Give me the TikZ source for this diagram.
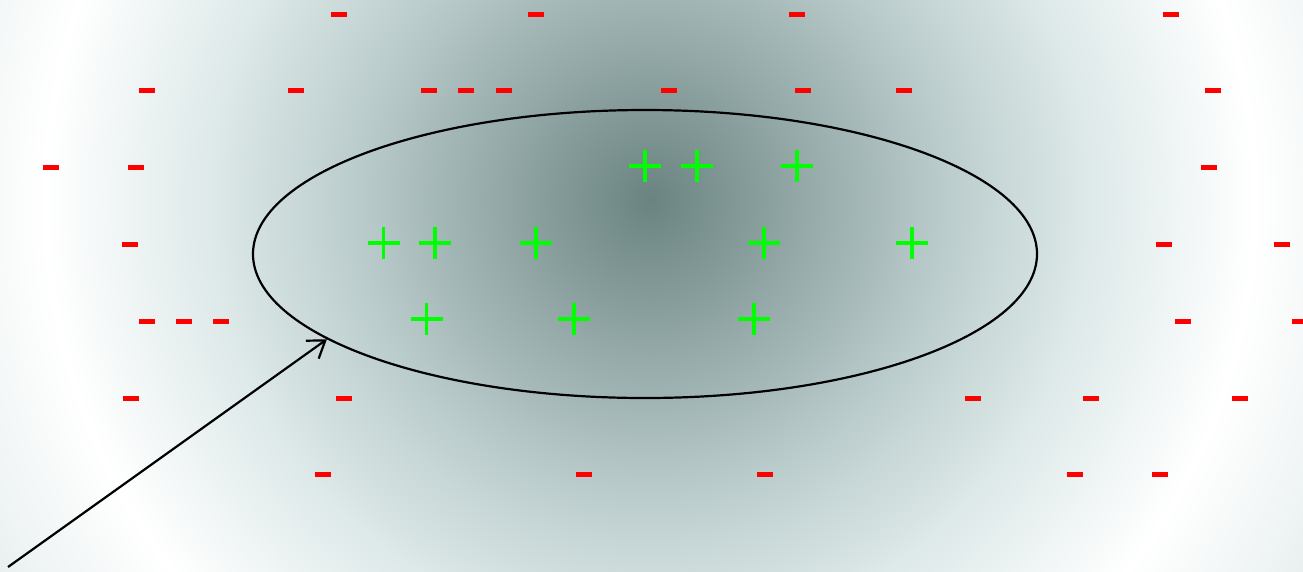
\documentclass[tikz,border=0pt]{standalone}
\usetikzlibrary{shapes.geometric,arrows.meta}
\definecolor{shcenter}{RGB}{106,131,129}
\definecolor{shmid}{RGB}{188,205,205}
\definecolor{shmidb}{RGB}{222,233,233}
\definecolor{shouter}{RGB}{196,214,214}
\definecolor{minusred}{RGB}{255,0,0}
\definecolor{plusgreen}{RGB}{0,255,0}
\pgfdeclareradialshading{bgshade}{\pgfpoint{0bp}{0bp}}{color(0bp)=(shcenter); color(7.5bp)=(shmid); color(11bp)=(shmidb); color(15.1bp)=(white); color(25bp)=(shouter); color(50bp)=(shouter)}
\tikzset{
  minussign/.style={fill=minusred},
  plussign/.style={draw=plusgreen, line width=3.5pt},
  region/.style={draw=black, line width=2.2pt, ellipse, minimum width=784pt, minimum height=288pt, inner sep=0pt},
  pointer/.style={draw=black, line width=2.2pt, -{Straight Barb[length=16pt,width=22pt,line width=2.2pt]}}
}
\begin{document}
\begin{tikzpicture}[x=1pt,y=-1pt]
\useasboundingbox (0,0) rectangle (1303,571);
\begin{scope}
\clip (0,0) rectangle (1303,571);
\shade[shading=bgshade] (650,200) circle[radius=1000];
\end{scope}
% minus signs
\foreach \mx/\my in {339/14.5,536/14.5,797/14.5,1171/14.5,
  147/90.5,296/90.5,429/90.5,466/90.5,504/90.5,669/90.5,803/90.5,904/90.5,1213/90.5,
  51/167.5,136/167.5,1209/167.5,
  130/244.5,1164/244.5,1282/244.5,
  147/321.5,184/321.5,221/321.5,1183/321.5,1300/321.5,
  131/398.5,344/398.5,973/398.5,1091/398.5,1240/398.5,
  323/474.5,584/474.5,765/474.5,1075/474.5,1160/474.5}
  \fill[minussign] (\mx-8,\my-2.5) rectangle (\mx+8,\my+2.5);
% plus signs
\foreach \px/\py in {645/166,697/166,797/166,
  383.5/243,435/243,536/243,764/243,912/243,
  426.5/319,574/319,754/319}
  \draw[plussign] (\px-16,\py) -- (\px+16,\py) (\px,\py-16) -- (\px,\py+16);
\node[region] (ell) at (645,254) {};
\coordinate (start) at (8,567);
\draw[pointer] (start) -- (ell.195.3);
\end{tikzpicture}
\end{document}
